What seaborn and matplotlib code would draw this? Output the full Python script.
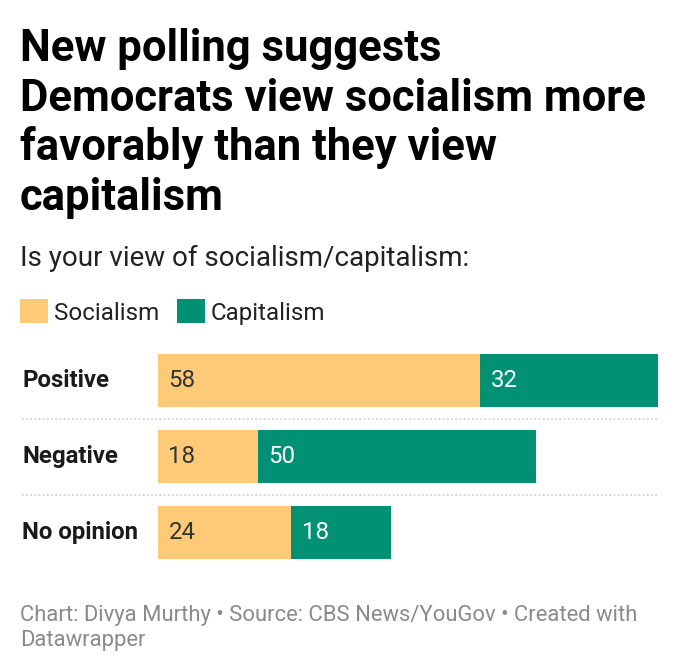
import matplotlib
matplotlib.use("Agg")
import matplotlib.pyplot as plt
import matplotlib.transforms as mtransforms
import seaborn as sns
import pandas as pd

# ---- data ----
categories = ["Positive", "Negative", "No opinion"]
socialism = [58, 18, 24]
capitalism = [32, 50, 18]
series_names = ["Socialism", "Capitalism"]
title_lines = ["New polling suggests",
               "Democrats view socialism more",
               "favorably than they view",
               "capitalism"]
subtitle = "Is your view of socialism/capitalism:"
footer_lines = ["Chart: Divya Murthy \u2022 Source: CBS News/YouGov \u2022 Created with",
                "Datawrapper"]

YELLOW = "#fdca78"
GREEN = "#009175"
FONT = ["Roboto", "DejaVu Sans"]

sns.set_theme(style="white")
plt.rcParams["font.family"] = FONT

df = pd.DataFrame({"category": categories,
                   "Socialism": socialism,
                   "Capitalism": capitalism})
df["total"] = df["Socialism"] + df["Capitalism"]

W, H = 680, 672
fig = plt.figure(figsize=(W / 100, H / 100), dpi=100)
fig.patch.set_facecolor("white")

# axes: x from 158px to 658px, y rows centred at 380.5, 456.5, 532.5
ax_left, ax_right = 158, 658
ax_top, ax_bot = 342.5, 570.5
ax = fig.add_axes([ax_left / W, 1 - ax_bot / H, (ax_right - ax_left) / W, (ax_bot - ax_top) / H])

sns.barplot(data=df, x="total", y="category", color=GREEN, saturation=1,
            width=0.7, ax=ax, label=series_names[1], orient="y", linewidth=0)
sns.barplot(data=df, x="Socialism", y="category", color=YELLOW, saturation=1,
            width=0.7, ax=ax, label=series_names[0], orient="y", linewidth=0)

ax.set_xlim(0, max(df["total"]))
ax.set_ylim(len(categories) - 0.5, -0.5)
ax.set_xlabel("")
ax.set_ylabel("")
ax.set_xticks([])
ax.set_yticks([])
for s in ax.spines.values():
    s.set_visible(False)
ax.patch.set_alpha(0)

green_patches = ax.containers[0].patches
yellow_patches = ax.containers[1].patches

VAL_FS = 17.3
# value labels
for i, (yp, gp) in enumerate(zip(yellow_patches, green_patches)):
    yc = yp.get_y() + yp.get_height() / 2
    ax.annotate(f"{socialism[i]}", (yp.get_x(), yc), xytext=(7.5, 0),
                textcoords="offset points", ha="left", va="center",
                fontsize=VAL_FS, color="#333333")
    ax.annotate(f"{capitalism[i]}", (yp.get_x() + yp.get_width(), yc), xytext=(7.5, 0),
                textcoords="offset points", ha="left", va="center",
                fontsize=VAL_FS, color="white")

# category labels
blend = mtransforms.blended_transform_factory(fig.transFigure, ax.transData)
for i, cat in enumerate(categories):
    ax.text(22 / W, i, cat, transform=blend, ha="left", va="center",
            fontsize=17.3, fontweight="bold", color="#1a1a1a")

# dotted separators
sep_blend = mtransforms.blended_transform_factory(ax.transAxes, ax.transData)
seps = [i + 0.5 for i in range(len(categories) - 1)]
ax.hlines(seps, xmin=(22 - ax_left) / (ax_right - ax_left), xmax=1,
          transform=sep_blend, clip_on=False, colors="#cfcfcf",
          linestyles=(0, (1, 1.5)), linewidth=1.2)

# legend
handles, labels = ax.get_legend_handles_labels()
order = [labels.index(n) for n in series_names]
leg = fig.legend([handles[k] for k in order], [labels[k] for k in order],
                 loc="upper left", bbox_to_anchor=(13 / W, 1 - 292 / H),
                 ncol=2, frameon=False, fontsize=17.4,
                 handlelength=1.16, handleheight=1.16, handletextpad=0.25,
                 columnspacing=0.72, borderaxespad=0, borderpad=0.3)
for t in leg.get_texts():
    t.set_color("#222222")
if ax.get_legend() is not None:
    ax.get_legend().remove()

# title
baselines = [61, 111, 160, 210]
for line, b in zip(title_lines, baselines):
    fig.text(20 / W, 1 - b / H, line, ha="left", va="baseline",
             fontsize=31.4, fontweight="bold", color="#000000")

fig.text(20 / W, 1 - 266 / H, subtitle, ha="left", va="baseline",
         fontsize=20, color="#222222")

for line, b in zip(footer_lines, [621, 646]):
    fig.text(20 / W, 1 - b / H, line, ha="left", va="baseline",
             fontsize=15.8, color="#8a8a8a")

fig.savefig("out.png", dpi=100, facecolor="white")
